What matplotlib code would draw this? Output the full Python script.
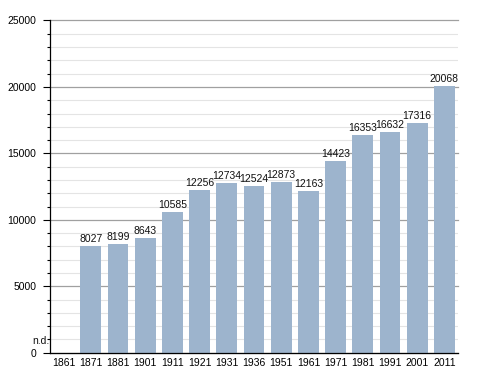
import matplotlib
matplotlib.use("Agg")
import matplotlib.pyplot as plt
import numpy as np
from matplotlib.ticker import MultipleLocator

years = ["1861", "1871", "1881", "1901", "1911", "1921", "1931", "1936",
         "1951", "1961", "1971", "1981", "1991", "2001", "2011"]
population = [None, 8027, 8199, 8643, 10585, 12256, 12734, 12524,
              12873, 12163, 14423, 16353, 16632, 17316, 20068]

plt.rcParams['font.family'] = ['Liberation Sans', 'DejaVu Sans']
fs = 7.5

fig = plt.figure(figsize=(4.88, 3.73), dpi=100)
ax = fig.add_axes([50/488, (373-352.7)/373, (458-50)/488, (352.7-20.5)/373])

x = np.arange(len(years))
vals = [v if v is not None else 0 for v in population]
bars = ax.bar(x, vals, width=0.77, color='#9db4cd', zorder=3)

for xi, v in zip(x, population):
    if v is None:
        ax.annotate('n.d.', xy=(-0.5, 0), xytext=(0, 4.5), textcoords='offset points',
                    ha='right', va='bottom', fontsize=fs, color='#111111')
    else:
        ax.annotate(str(v), xy=(xi, v), xytext=(0, 1.5), textcoords='offset points',
                    ha='center', va='bottom', fontsize=fs, color='#111111')

ax.set_xlim(-0.5, len(years) - 0.5)
ax.set_ylim(0, 25000)
ax.set_xticks(x)
ax.set_xticklabels(years, fontsize=fs)
ax.yaxis.set_major_locator(MultipleLocator(5000))
ax.yaxis.set_minor_locator(MultipleLocator(1000))
ax.tick_params(axis='x', length=0, pad=4)
ax.tick_params(axis='y', which='major', length=5, width=0.8, pad=5, labelsize=fs)
ax.tick_params(axis='y', which='minor', length=2.5, width=0.8)

ax.grid(axis='y', which='major', color='#a0a0a0', linewidth=0.9, zorder=1)
ax.grid(axis='y', which='minor', color='#e4e4e4', linewidth=0.8, zorder=0)
for gl in ax.get_ygridlines():
    gl.set_clip_on(False)

for s in ['top', 'right']:
    ax.spines[s].set_visible(False)
for s in ['left', 'bottom']:
    ax.spines[s].set_color('black')
    ax.spines[s].set_linewidth(0.9)
    ax.spines[s].set_zorder(4)

fig.savefig('out.png', dpi=100, facecolor='white')
